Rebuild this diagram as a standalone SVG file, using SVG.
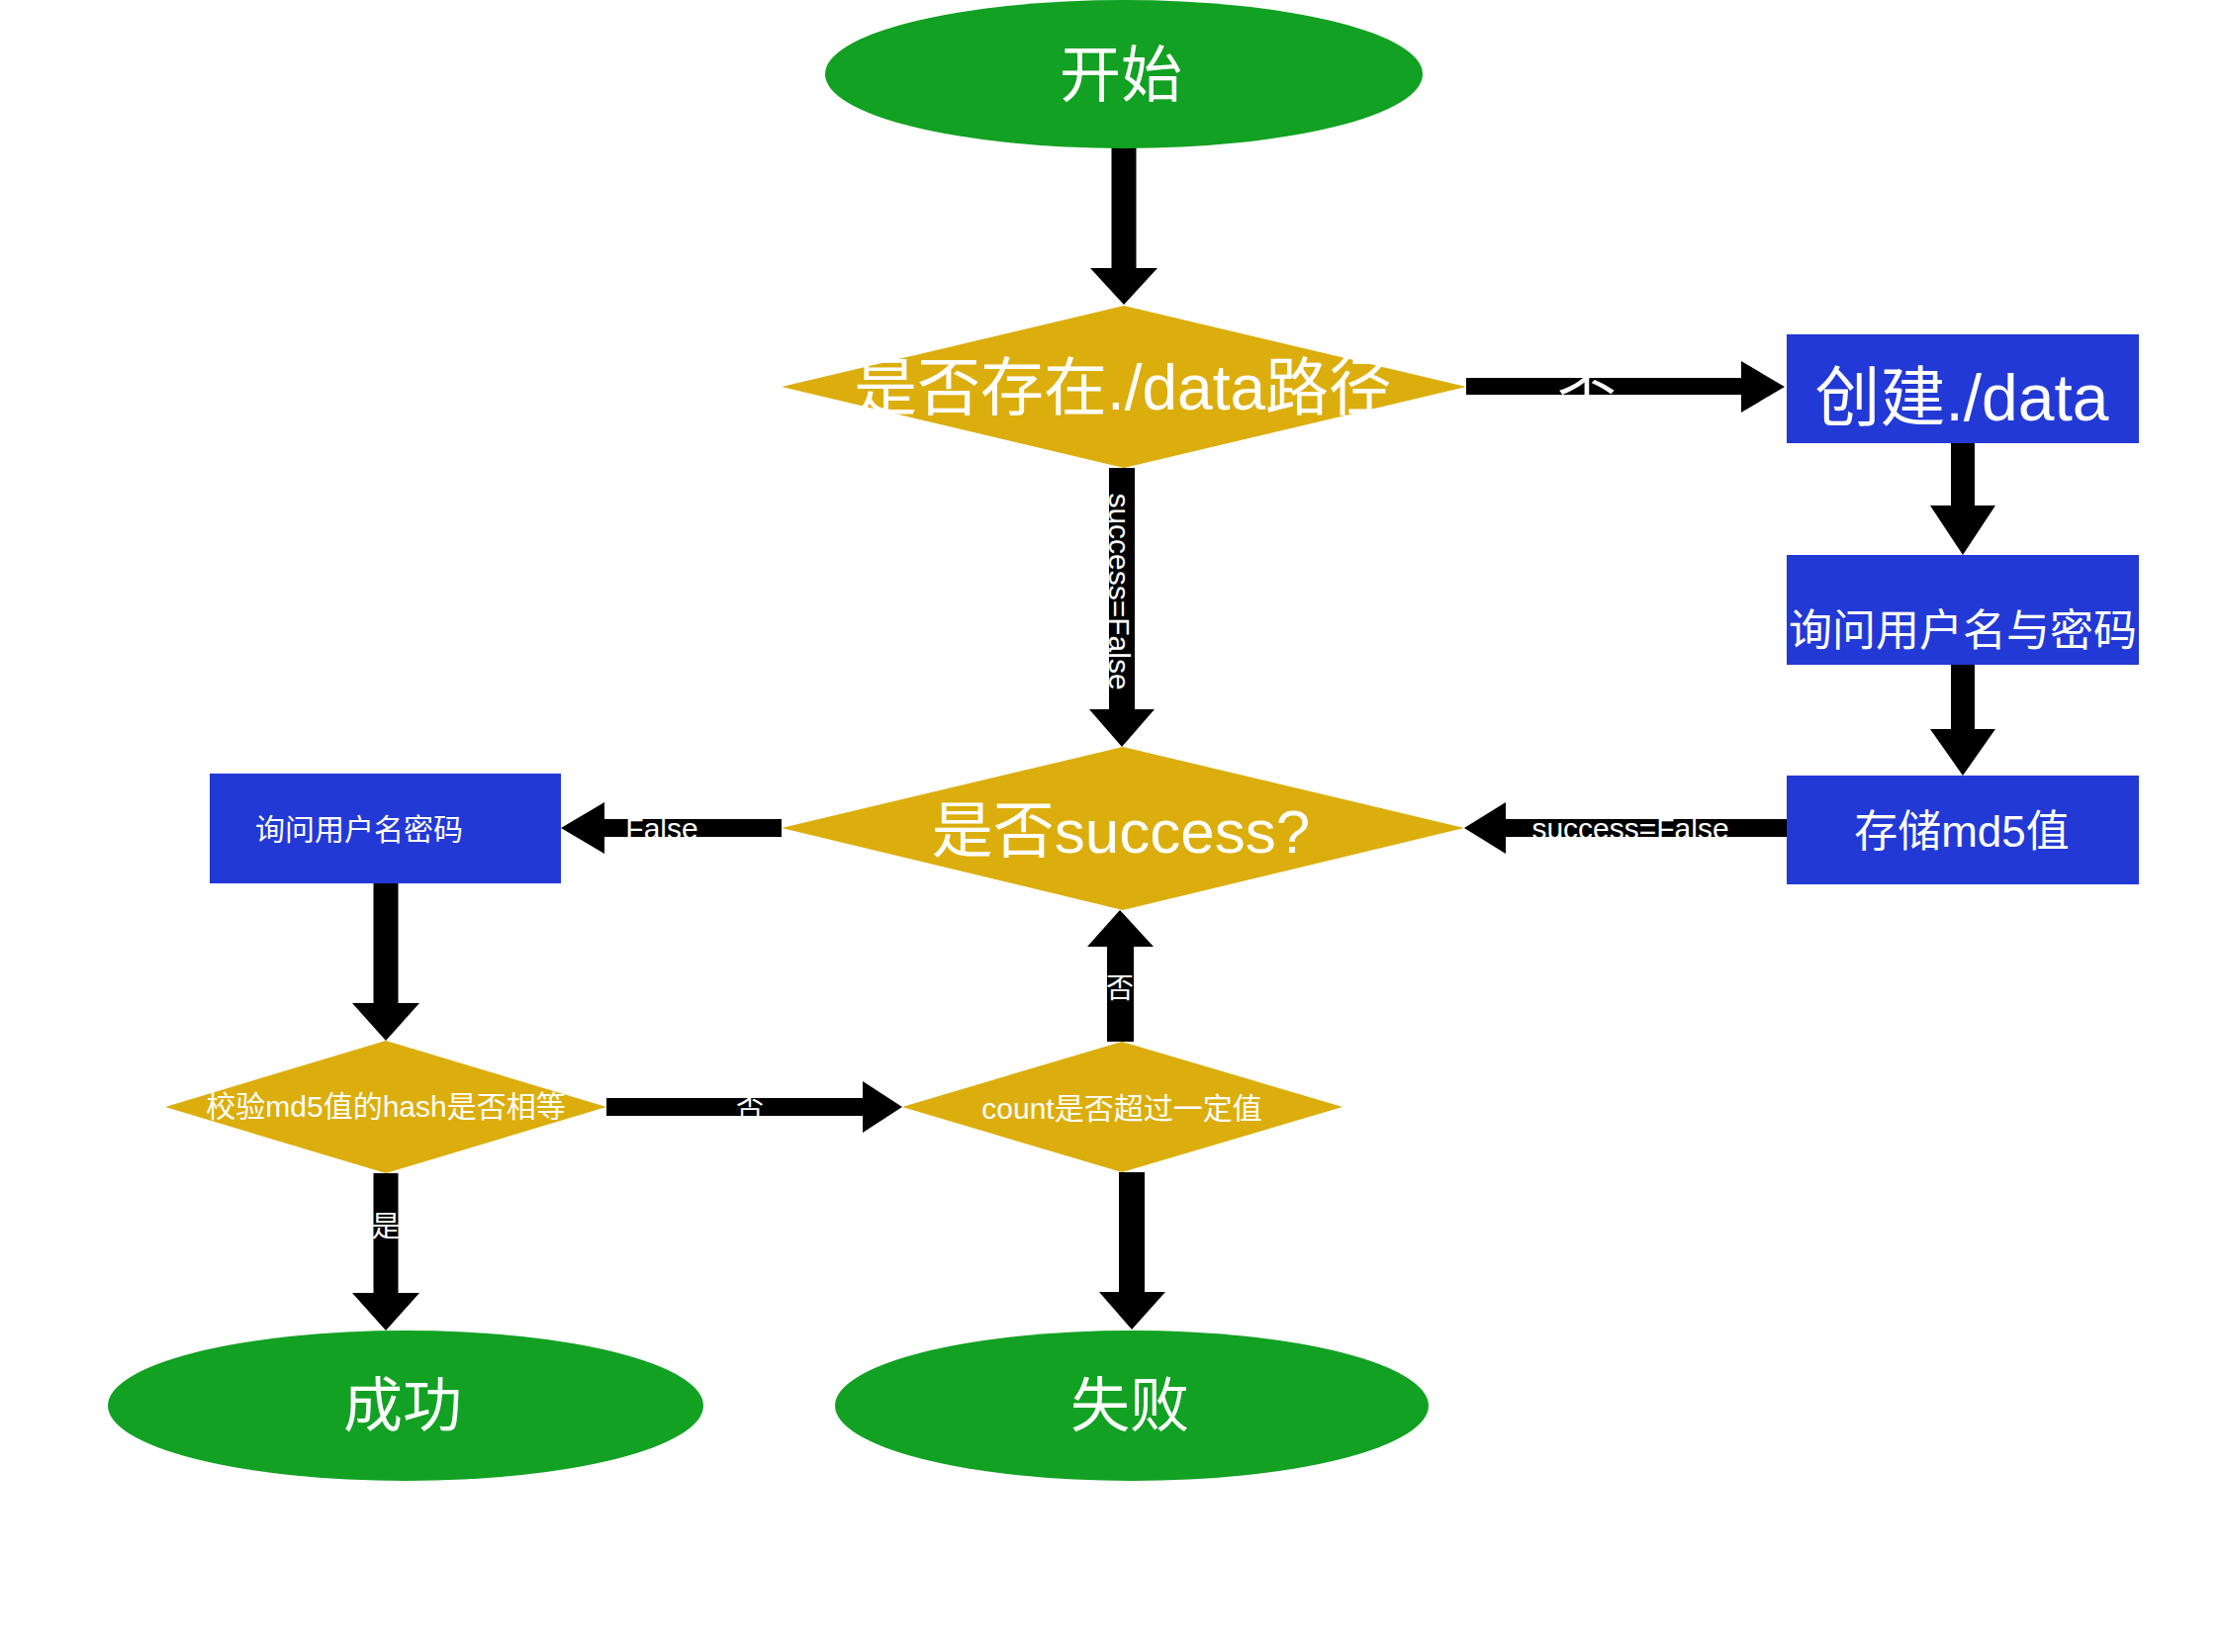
<svg xmlns="http://www.w3.org/2000/svg" width="2245" height="1670" viewBox="0 0 2245 1670">
<style>
text{font-family:"Liberation Sans","Noto Sans CJK SC",sans-serif;fill:#ffffff;text-anchor:middle}
.term{fill:#12A122}
.dec{fill:#DCAE0D}
.proc{fill:#2339D6}
.arrow{fill:#000000}
</style>
<rect width="2245" height="1670" fill="#ffffff"/>
<g id="connectors">
<path class="arrow" d="M1123.5,149 H1148.5 V271 H1170 L1136,308 L1102,271 H1123.5 Z"/>
<path class="arrow" d="M1121,473 H1147 V717 H1167 L1134,755 L1101,717 H1121 Z"/>
<path class="arrow" d="M1482,382 H1760 V365 L1804,391 L1760,417 V399 H1482 Z"/>
<path class="arrow" d="M1972,448 H1996 V511 H2017 L1984,561 L1951,511 H1972 Z"/>
<path class="arrow" d="M1972,672 H1996 V737 H2017 L1984,784 L1951,737 H1972 Z"/>
<path class="arrow" d="M1806,828 H1522 V811 L1480,837 L1522,863 V846 H1806 Z"/>
<path class="arrow" d="M790,828 H611 V811 L567,837 L611,863 V846 H790 Z"/>
<path class="arrow" d="M377.5,893 H402.5 V1014 H424 L390,1052 L356,1014 H377.5 Z"/>
<path class="arrow" d="M613,1110 H872 V1093 L912,1119 L872,1145 V1128 H613 Z"/>
<path class="arrow" d="M1119,1053 H1146 V957 H1166 L1132,920 L1099,957 H1119 Z"/>
<path class="arrow" d="M377.5,1186 H402.5 V1307 H424 L390,1345 L356,1307 H377.5 Z"/>
<path class="arrow" d="M1131,1185 H1157 V1306 H1178 L1144,1344 L1111,1306 H1131 Z"/>
<text x="1604" y="421" font-size="60">否</text>
<text transform="translate(1121,598) rotate(90)" x="0" y="0" font-size="30">success=False</text>
<text x="1648" y="848" font-size="30">success=False</text>
<text x="669" y="848" font-size="30">False</text>
<text x="758" y="1129" font-size="28">否</text>
<text x="1132" y="1009" font-size="28">否</text>
<text x="390" y="1250" font-size="29">是</text>
</g>
<g id="start">
<ellipse class="term" cx="1136" cy="75" rx="302" ry="75"/>
<text x="1133" y="98" font-size="62">开始</text>
</g>
<g id="check-data">
<polygon class="dec" points="1136,309 1482,391 1136,473 790,391"/>
<text x="1135" y="414" font-size="64">是否存在./data路径</text>
</g>
<g id="create-data">
<rect class="proc" x="1806" y="338" width="356" height="110"/>
<text x="1983" y="425" font-size="66">创建./data</text>
</g>
<g id="ask-user-pass">
<rect class="proc" x="1806" y="561" width="356" height="111"/>
<text x="1984" y="653" font-size="44">询问用户名与密码</text>
</g>
<g id="store-md5">
<rect class="proc" x="1806" y="784" width="356" height="110"/>
<text x="1983" y="856" font-size="44">存储md5值</text>
</g>
<g id="is-success">
<polygon class="dec" points="1135,755 1480,837 1135,920 790,837"/>
<text x="1133" y="862" font-size="62">是否success?</text>
</g>
<g id="ask-login">
<rect class="proc" x="212" y="782" width="355" height="111"/>
<text x="258" y="849" font-size="30" style="text-anchor:start">询问用户名密码</text>
</g>
<g id="check-hash">
<polygon class="dec" points="390,1052 613,1119 390,1186 167,1119"/>
<text x="390" y="1129" font-size="30">校验md5值的hash是否相等</text>
</g>
<g id="check-count">
<polygon class="dec" points="1134,1053 1357,1119 1134,1185 912,1119"/>
<text x="1134" y="1131" font-size="30">count是否超过一定值</text>
</g>
<g id="success">
<ellipse class="term" cx="410" cy="1421" rx="301" ry="76"/>
<text x="407" y="1442" font-size="60">成功</text>
</g>
<g id="fail">
<ellipse class="term" cx="1144" cy="1421" rx="300" ry="76"/>
<text x="1142" y="1442" font-size="60">失败</text>
</g>
</svg>
